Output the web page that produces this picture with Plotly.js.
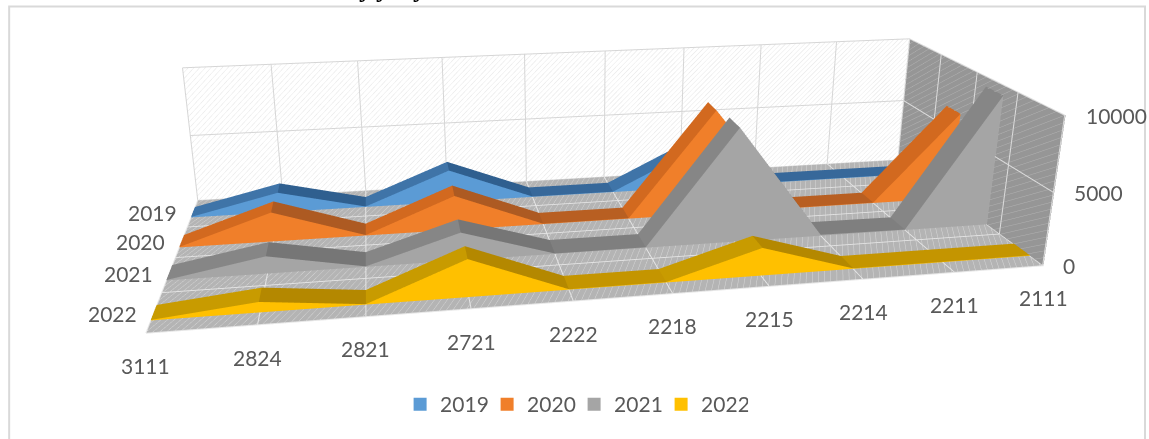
<!DOCTYPE html>
<html><head><meta charset="utf-8"><script src="https://cdn.plot.ly/plotly-3.0.1.min.js"></script>
<style>html,body{margin:0;background:#fff;overflow:hidden;width:1149px;height:439px}#c{position:absolute}</style></head><body><div id="c"></div>
<script>
const categories=['3111','2824','2821','2721','2222','2218','2215','2214','2211','2111'];
const seriesNames=['2019','2020','2021','2022'];
const v2019=[60,1500,60,2450,60,60,3000,60,60,60];
const v2020=[60,2100,60,2500,60,60,7650,60,60,6500];
const v2021=[60,1200,60,1950,60,60,8000,100,60,9300];
const v2022=[60,700,60,2500,60,60,1900,60,60,60];
const seriesValues=[v2019,v2020,v2021,v2022];
const colors=['#5b9bd5','#f07f2a','#a5a5a5','#ffc000'];
const darkRise=['#3f74a8','#d2691f','#868686','#c89b00'];
const darkFall=['#2f5f8f','#ad5a22','#767676','#b48800'];
const darkFlat=['#37689a','#b85f22','#7f7f7f','#c49500'];

// camera and box
const eye={x:-.739,y:-3.92,z:1.36},center={x:.148,y:1.242,z:-.458},up={x:-.001,y:0,z:1};
const aspect={x:3,y:1.172,z:.549};
const H=947.503,ppx=573.419,ppy=167.494;
const bandFront=[3.339,2.317,1.331,.296],bandBack=[3.71,2.71,1.763,.666];
const LW=2*Math.max(ppx,1149-ppx),LH=2*Math.max(ppy,439-ppy,H/2);
const left=ppx-LW/2,top0=ppy-LH/2;
const el=document.getElementById('c');el.style.left=left+'px';el.style.top=top0+'px';
const X=px=>(px-left)/LW,Y=py=>1-(py-top0)/LH;
const lit={ambient:1,diffuse:0,specular:0,roughness:1,fresnel:0};
let traces=[];
function quad(x,y,z,color){traces.push({type:'mesh3d',x,y,z,i:[0,0],j:[1,2],k:[2,3],color,flatshading:true,lighting:lit,showlegend:false,hoverinfo:'skip'});}
quad([0,9,9,0],[4,4,4,4],[0,0,10000,10000],'#ffffff');
quad([0,9,9,0],[0,0,4,4],[0,0,0,0],'#b4b4b4');
quad([9,9,9,9],[0,4,4,0],[0,0,10000,10000],'#969696');
function line(x,y,z,color,width=2){traces.push({type:'scatter3d',mode:'lines',x,y,z,line:{color,width},connectgaps:false,showlegend:false,hoverinfo:'skip'});}
// wall texture: diagonal hatching, map(u,v) gives a 3D point on the wall
function hatch(U,span,step,map,color){
  const x=[],y=[],z=[];
  for(let o=-span;o<U;o+=step){
    const v0=o<0?-o/span:0,v1=o+span>U?(U-o)/span:1;
    const a=map(o+v0*span,v0),b=map(o+v1*span,v1);
    x.push(a[0],b[0],null);y.push(a[1],b[1],null);z.push(a[2],b[2],null);
  }
  line(x,y,z,color,1);
}
hatch(9,1.64,.066,(u,v)=>[u,3.993,v*10000],'#e6e6e6');
hatch(9,1.4,.066,(u,v)=>[u,v*4,10],'#d8d8d8');
hatch(4,3.4,.16,(u,v)=>[8.993,4-u,v*10000],'#b2b2b2');
const gx=[0,1,2,3,4,5,6,7,8,9],gy=[0,1,2,3,4],gz=[0,5000,10000];
gx.forEach(g=>{line([g,g],[3.99,3.99],[0,10000],'#d6d6d6');line([g,g],[0,4],[20,20],'#e6e6e6');});
gz.forEach(g=>{line([0,9],[3.99,3.99],[g,g],'#d6d6d6');line([8.99,8.99],[0,4],[g,g],'#dcdcdc');});
gy.forEach(g=>{line([0,9],[g,g],[20,20],'#e6e6e6');line([8.99,8.99],[g,g],[0,10000],'#dcdcdc');});
seriesValues.forEach((vals,s)=>{
  const y0=bandFront[s],y1=bandBack[s];
  let x=[],y=[],z=[],i=[],j=[],k=[],fc=[];
  const n=vals.length;
  vals.forEach((v,c)=>{x.push(c,c,c,c);y.push(y0,y1,y0,y1);z.push(30,30,v,v);});
  for(let c=0;c<n-1;c++){
    const a=c*4,b=(c+1)*4,d=vals[c+1]-vals[c];
    const top=d>300?darkRise[s]:d<-300?darkFall[s]:darkFlat[s];
    i.push(a,a, a+2,a+3);j.push(b,a+2, a+3,b+3);k.push(b+2,b+2, b+2,b+2);
    fc.push(colors[s],colors[s],top,top);
  }
  traces.push({type:'mesh3d',x,y,z,i,j,k,facecolor:fc,flatshading:true,lighting:lit,showlegend:false,hoverinfo:'skip',name:seriesNames[s]});
});
seriesNames.forEach((n,s)=>traces.push({type:'scatter3d',mode:'markers',x:[null],y:[null],z:[null],name:n,marker:{symbol:'square',size:13,color:colors[s]},showlegend:true,hoverinfo:'skip'}));
const font={family:'Lato',size:21,color:'#595959'};
const anns=[];
categories.forEach((c,i)=>anns.push({x:i,y:0,z:0,text:c,showarrow:false,yshift:-32,font}));
seriesNames.forEach((c,i)=>anns.push({x:0,y:(bandFront[i]+bandBack[i])/2,z:0,text:c,showarrow:false,xshift:-41,font}));
[0,5000,10000].forEach(z=>anns.push({x:9,y:0,z,text:String(z),showarrow:false,xanchor:'left',xshift:18,font}));
const hid={showticklabels:false,ticks:'',showspikes:false,title:{text:''},showgrid:false,zeroline:false,showline:false,showbackground:false};
const titleBits=[365,382,419].map(px=>({xref:'paper',yref:'paper',x:X(px),y:Y(5),xanchor:'center',yanchor:'bottom',showarrow:false,text:'<b>y</b>',font:{family:'Liberation Serif',size:26,color:'#000'}}));
const layout={width:LW,height:LH,margin:{l:0,r:0,t:0,b:0,autoexpand:false},paper_bgcolor:'rgba(0,0,0,0)',showlegend:true,
 legend:{orientation:'h',x:X(400),y:Y(404),xanchor:'left',yanchor:'middle',entrywidth:42,font},
 annotations:titleBits,
 shapes:[{type:'rect',xref:'paper',yref:'paper',x0:X(9),x1:X(1145),y0:Y(460),y1:Y(6),line:{color:'#d9d9d9',width:2}}],
 scene:{domain:{x:[0,1],y:[(LH-H)/2/LH,1-(LH-H)/2/LH]},aspectmode:'manual',aspectratio:aspect,camera:{eye,center,up},
 xaxis:{...hid,range:[0,9]},yaxis:{...hid,range:[0,4]},zaxis:{...hid,range:[0,10000]},annotations:anns}};
Plotly.newPlot('c',traces,layout,{displayModeBar:false});
</script></body></html>
